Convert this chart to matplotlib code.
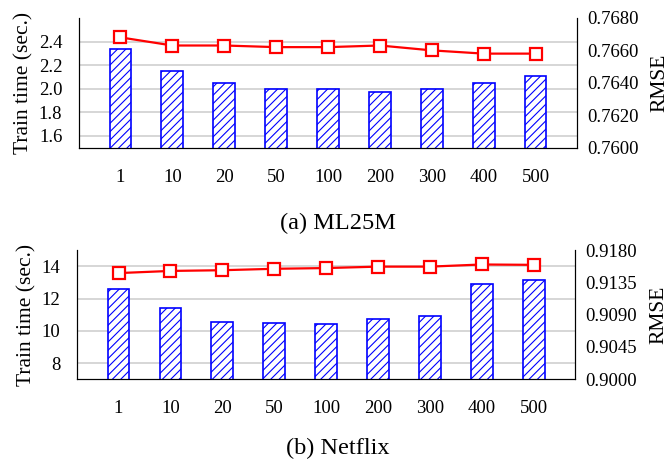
import numpy as np
import matplotlib
matplotlib.use('Agg')
import matplotlib.pyplot as plt

plt.rcParams['font.family'] = ['Liberation Serif', 'DejaVu Serif']
plt.rcParams['hatch.linewidth'] = 0.8

labels = ['1', '10', '20', '50', '100', '200', '300', '400', '500']

ml_time = [2.34, 2.15, 2.05, 2.00, 2.00, 1.97, 2.00, 2.05, 2.11]
ml_rmse = [0.7668, 0.7663, 0.7663, 0.7662, 0.7662, 0.7663, 0.7660, 0.7658, 0.7658]

nf_time = [12.58, 11.42, 10.56, 10.50, 10.45, 10.75, 10.90, 12.87, 13.16]
nf_rmse = [0.9148, 0.9151, 0.9152, 0.9154, 0.9155, 0.9157, 0.9157, 0.9160, 0.91595]

panels = [
    dict(time=ml_time, rmse=ml_rmse, ylim=(1.5, 2.6), yticks=[1.6, 1.8, 2.0, 2.2, 2.4],
         yfmt='{:.1f}', rlim=(0.76, 0.768), rticks=[0.760, 0.762, 0.764, 0.766, 0.768],
         rect=[0.1177, 0.678, 0.7423, 0.283], caption='(a) ML25M', cap_y=0.513),
    dict(time=nf_time, rmse=nf_rmse, ylim=(7, 15), yticks=[8, 10, 12, 14],
         yfmt='{:.0f}', rlim=(0.9, 0.918), rticks=[0.9, 0.9045, 0.909, 0.9135, 0.918],
         rect=[0.1148, 0.174, 0.7423, 0.281], caption='(b) Netflix', cap_y=0.023),
]

fig = plt.figure(figsize=(6.71, 4.59), dpi=100)
x = np.arange(len(labels))

for p in panels:
    ax = fig.add_axes(p['rect'])
    ax.bar(x, p['time'], width=0.42, color='white', edgecolor='blue',
           linewidth=1.2, hatch='////', zorder=2)
    ax.set_xlim(-0.8, 8.8)
    ax.set_ylim(*p['ylim'])
    ax.set_yticks(p['yticks'])
    ax.set_yticklabels([p['yfmt'].format(v) for v in p['yticks']])
    ax.set_xticks(x)
    ax.set_xticklabels(labels)
    ax.yaxis.grid(True, color='#d0d0d0', linewidth=1.2, zorder=0)
    ax.set_axisbelow(True)
    ax.tick_params(axis='x', length=0, pad=15, labelsize=13.5)
    ax.tick_params(axis='y', length=0, pad=12, labelsize=13.5)
    ax.set_ylabel('Train time (sec.)', fontsize=15.5, labelpad=4)
    ax.spines['top'].set_visible(False)

    ax2 = ax.twinx()
    ax2.plot(x, p['rmse'], color='red', linewidth=1.6, marker='s', markersize=8,
             markerfacecolor='white', markeredgecolor='red', markeredgewidth=1.6)
    ax2.set_ylim(*p['rlim'])
    ax2.set_yticks(p['rticks'])
    ax2.set_yticklabels(['{:.4f}'.format(v) for v in p['rticks']])
    ax2.tick_params(axis='y', length=0, pad=7, labelsize=13.5)
    ax2.set_ylabel('RMSE', fontsize=15.5, labelpad=9)
    ax2.spines['top'].set_visible(False)

    fig.text(0.503, p['cap_y'], p['caption'], ha='center', va='center', fontsize=17.5)

fig.savefig('out.png', dpi=100)
